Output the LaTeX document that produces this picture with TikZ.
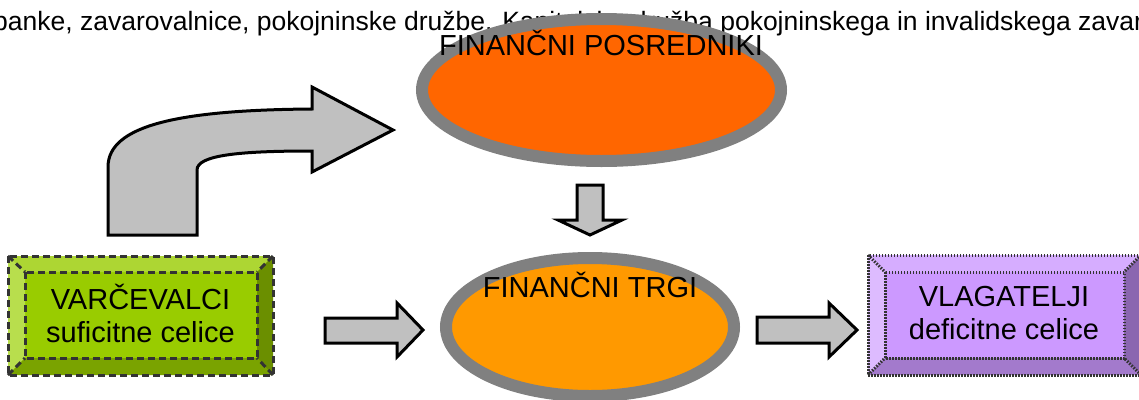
\documentclass[tikz,border=0pt]{standalone}
\usepackage{fontspec}
\setmainfont{Liberation Sans}
\usetikzlibrary{shapes.geometric}
\definecolor{posrfill}{HTML}{FF6600}
\definecolor{trgfill}{HTML}{FF9900}
\definecolor{ringgray}{HTML}{808080}
\definecolor{arrowgray}{HTML}{C0C0C0}
\definecolor{gmain}{HTML}{99CC00}
\definecolor{gtop}{HTML}{ADD633}
\definecolor{gleft}{HTML}{B8DE4D}
\definecolor{gright}{HTML}{6B8F00}
\definecolor{gbottom}{HTML}{7AA300}
\definecolor{pmain}{HTML}{CC99FF}
\definecolor{ptop}{HTML}{D6ADFF}
\definecolor{pleft}{HTML}{DDBBFF}
\definecolor{pright}{HTML}{8A66B0}
\definecolor{pbottom}{HTML}{A37ACC}
\definecolor{edgedark}{HTML}{333333}
\begin{document}
\begin{tikzpicture}[x=1pt,y=-1pt,
  ell/.style={ellipse, draw=ringgray, line width=12pt, inner sep=0pt},
  bigtxt/.style={font=\fontsize{29}{33}\selectfont, text=black, inner sep=0pt},
  toptxt/.style={font=\fontsize{26.5}{30}\selectfont, text=black, inner sep=0pt},
  blockarrow/.style={draw=black, line width=3pt, fill=arrowgray, line join=miter},
  gdash/.style={draw=edgedark, line width=3pt, dash pattern=on 7pt off 4pt},
  pdot/.style={draw=edgedark, line width=3pt, dash pattern=on 1.5pt off 1.5pt},
  boxtxt/.style={bigtxt, align=center, minimum width=265pt, minimum height=119pt}
]
\useasboundingbox (0,0) rectangle (1139,399);

% top text line (partly hidden behind the ellipse)
\node[toptxt, anchor=base west] (toptext) at (-7,30) {banke, zavarovalnice, pokojninske družbe. Kapitalska družba pokojninskega in invalidskega zavar};

% ellipses
\node[ell, fill=posrfill, minimum width=359pt, minimum height=142pt] (posr) at (601.5,90) {};
\node[bigtxt, anchor=base] (posrtxt) at (601,55) {FINANČNI POSREDNIKI};
\node[ell, fill=trgfill, minimum width=288pt, minimum height=138pt] (trgi) at (590,327) {};
\node[bigtxt, anchor=base] (trgitxt) at (590,297) {FINANČNI TRGI};

% green bevel box
\fill[gmain] (8,256) rectangle (273,375);
\fill[gtop] (8,256) -- (273,256) -- (257,272) -- (25,272) -- cycle;
\fill[gleft] (8,256) -- (25,272) -- (25,358) -- (8,375) -- cycle;
\fill[gright] (273,256) -- (273,375) -- (257,358) -- (257,272) -- cycle;
\fill[gbottom] (8,375) -- (25,358) -- (257,358) -- (273,375) -- cycle;
\draw[gdash] (8,256) rectangle (273,375);
\draw[gdash] (25,272) rectangle (257,358);
\draw[gdash] (8,256) -- (25,272) (273,256) -- (257,272) (273,375) -- (257,358) (8,375) -- (25,358);
\node[boxtxt] (sav) at (140.5,313) {VARČEVALCI\\suficitne celice};

% purple bevel box
\fill[pmain] (868,255) rectangle (1141,375);
\fill[ptop] (868,255) -- (1141,255) -- (1124,272) -- (885,272) -- cycle;
\fill[pleft] (868,255) -- (885,272) -- (885,358) -- (868,375) -- cycle;
\fill[pright] (1141,255) -- (1141,375) -- (1124,358) -- (1124,272) -- cycle;
\fill[pbottom] (868,375) -- (885,358) -- (1124,358) -- (1141,375) -- cycle;
\draw[pdot] (868,255) rectangle (1141,375);
\draw[pdot] (885,272) rectangle (1124,358);
\draw[pdot] (868,255) -- (885,272) (1141,255) -- (1124,272) (1141,375) -- (1124,358) (868,375) -- (885,358);
\node[boxtxt] (vlag) at (1004,313) {VLAGATELJI\\deficitne celice};

% bent arrow from savers up to intermediaries
\draw[blockarrow] (108,235) -- (108,167) .. controls (108,125) and (180,110) .. (312,109)
  -- (312,87) -- (393,130) -- (312,172) -- (312,151)
  .. controls (240,151) and (197,155) .. (197,170) -- (197,235) -- cycle;

% down arrow
\draw[blockarrow] (577,185) -- (603,185) -- (603,220) -- (622,220) -- (590,235) -- (558,220) -- (577,220) -- cycle;

% right arrows
\draw[blockarrow] (325,318) -- (397,318) -- (397,303) -- (423,330) -- (397,357) -- (397,343) -- (325,343) -- cycle;
\draw[blockarrow] (757,317) -- (829,317) -- (829,303) -- (857,330) -- (829,357) -- (829,343) -- (757,343) -- cycle;
\end{tikzpicture}
\end{document}
